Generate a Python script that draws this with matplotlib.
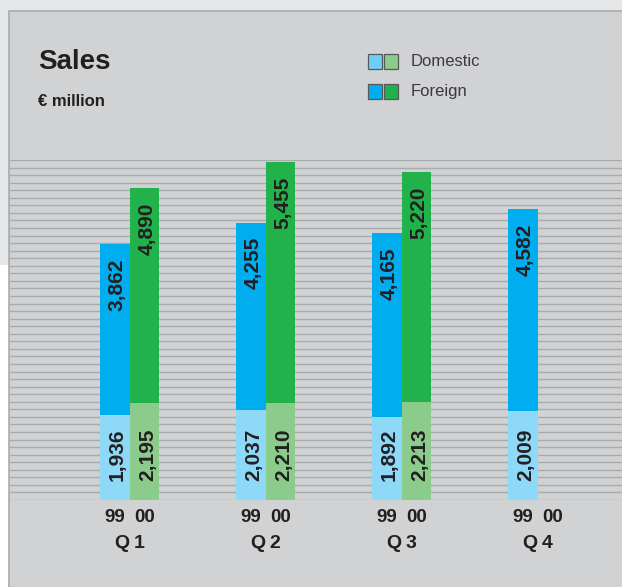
import numpy as np
import matplotlib
matplotlib.use('Agg')
import matplotlib.pyplot as plt
from matplotlib.patches import Rectangle

plt.rcParams['font.family'] = ['Liberation Sans', 'DejaVu Sans']

# -- data (EUR million)
quarters = ['Q 1', 'Q 2', 'Q 3', 'Q 4']
years = ['99', '00']
domestic_99 = [1936, 2037, 1892, 2009]
foreign_99 = [3862, 4255, 4165, 4582]
domestic_00 = [2195, 2210, 2213, np.nan]
foreign_00 = [4890, 5455, 5220, np.nan]

# colours
c_dom99, c_for99 = '#8ed8f8', '#00aeef'
c_dom00, c_for00 = '#8bcb8b', '#22b24c'
txt = '#231f20'

W, H = 622, 587
fig = plt.figure(figsize=(W / 100, H / 100), dpi=100)
fig.patch.set_facecolor('#e6e7e9')


def fx(px):
    return px / W


def fy(py):
    return 1 - py / H


# background panel
fig.patches.append(Rectangle((0, 0), fx(8.5), (H - 265) / H, transform=fig.transFigure,
                             facecolor='white', edgecolor='none', zorder=-2))
fig.patches.append(Rectangle((fx(9), fy(620)), fx(640), (620 - 11) / H, transform=fig.transFigure,
                             facecolor='#d1d2d4', edgecolor='#a9aaac', lw=1.2, zorder=-2))

# plot area
ax = fig.add_axes([fx(10), fy(500), fx(612), 340 / H])
ax.set_zorder(2)
ax.set_facecolor('none')
ymax = 7710
ax.set_ylim(0, ymax)
ax.set_xlim(-0.879, 3.621)
ax.axis('off')

for y in np.linspace(0, ymax, 46):
    ax.axhline(y, color='#a9aaac', lw=1.0, zorder=0)

x = np.arange(len(quarters))
w = 0.22
off = 0.11
d99, f99 = np.array(domestic_99, float), np.array(foreign_99, float)
d00, f00 = np.array(domestic_00, float), np.array(foreign_00, float)

ax.bar(x - off, d99, width=w, color=c_dom99, zorder=2)
ax.bar(x - off, f99, width=w, bottom=d99, color=c_for99, zorder=2)
ax.bar(x + off, d00, width=w, color=c_dom00, zorder=2)
ax.bar(x + off, f00, width=w, bottom=d00, color=c_for00, zorder=2)

# value labels inside the bars
lab_kw = dict(rotation=90, ha='center', fontsize=15, fontweight='bold', color=txt,
              textcoords='offset points', zorder=3)
for xs, dom, fore in [(x - off, d99, f99), (x + off, d00, f00)]:
    for xi, d, f in zip(xs, dom, fore):
        if np.isnan(d):
            continue
        ax.annotate(f'{int(d):,}', xy=(xi, 0), xytext=(2, 13.5), va='bottom', **lab_kw)
        ax.annotate(f'{int(f):,}', xy=(xi, d + f), xytext=(2, -10.5), va='top', **lab_kw)

# category labels under the bars
tr = ax.get_xaxis_transform()
for xi, q in zip(x, quarters):
    ax.text(xi - off, -17.5 / 340, years[0], transform=tr, ha='center', va='center',
            fontsize=13.5, fontweight='bold', color=txt, clip_on=False)
    ax.text(xi + off, -17.5 / 340, years[1], transform=tr, ha='center', va='center',
            fontsize=13.5, fontweight='bold', color=txt, clip_on=False)
    ax.text(xi, -43.5 / 340, q.replace(' ', '\u2009'), transform=tr, ha='center', va='center',
            fontsize=14, fontweight='bold', color=txt, clip_on=False)

# title
fig.text(fx(38), fy(62), 'Sales', fontsize=20, fontweight='bold', color=txt, va='center')
fig.text(fx(38), fy(101), '€ million', fontsize=12, fontweight='bold', color=txt, va='center')

# legend
for row, (label, c1, c2) in enumerate([('Domestic', '#6dcff6', c_dom00), ('Foreign', c_for99, c_for00)]):
    top = 54 + row * 30
    for i, c in enumerate([c1, c2]):
        fig.patches.append(Rectangle((fx(368 + i * 16), fy(top + 15)), fx(14), 15 / H,
                                     transform=fig.transFigure, facecolor=c,
                                     edgecolor='#58595b', lw=0.9))
    fig.text(fx(411), fy(top + 7.5), label, fontsize=12, color='#3a3a3c', va='center')

fig.savefig('out.png', dpi=100, facecolor=fig.get_facecolor())
